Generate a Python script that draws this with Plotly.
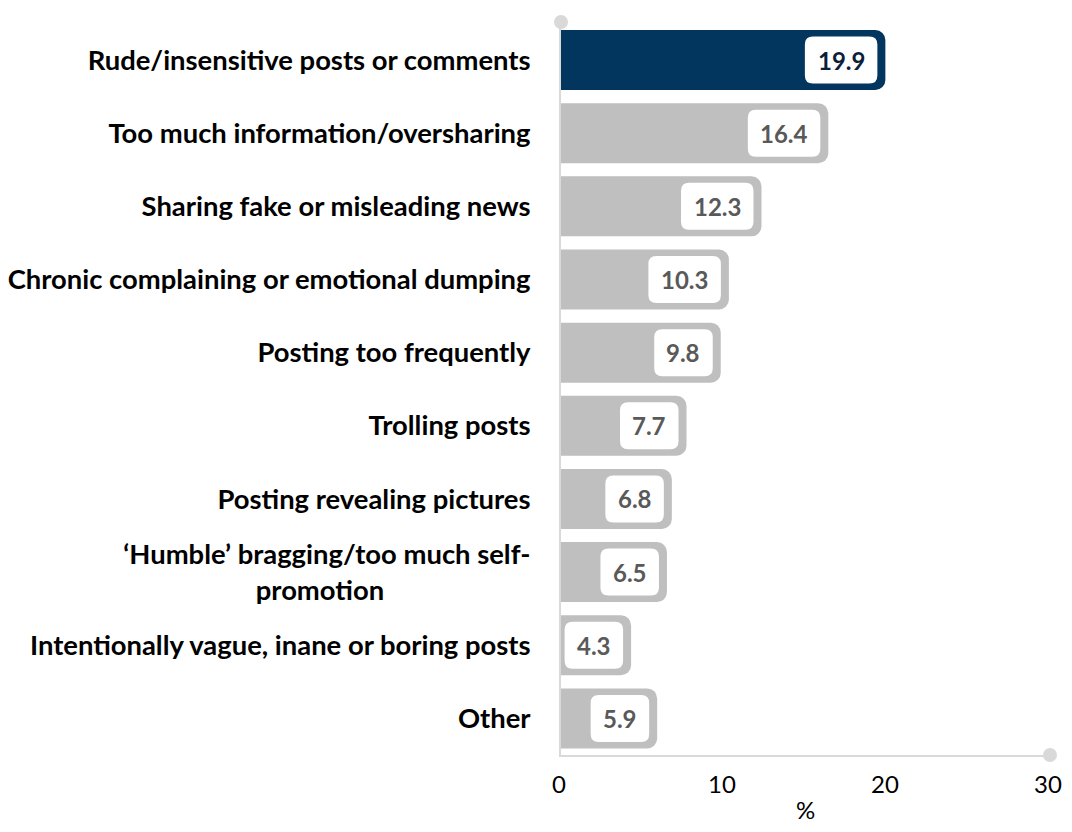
import plotly.graph_objects as go

categories = [
    "Rude/insensitive posts or comments",
    "Too much information/oversharing",
    "Sharing fake or misleading news",
    "Chronic complaining or emotional dumping",
    "Posting too frequently",
    "Trolling posts",
    "Posting revealing pictures",
    "‘Humble’ bragging/too much self-<br>promotion" + "\u00a0" * 22,
    "Intentionally vague, inane or boring posts",
    "Other",
]
values = [19.9, 16.4, 12.3, 10.3, 9.8, 7.7, 6.8, 6.5, 4.3, 5.9]
x_ticks = [0, 10, 20, 30]

FONT = "Lato, Carlito, Calibri, sans-serif"
NAVY = "#02365F"
GRAY = "#BFBFBF"
AXIS = "#D9D9D9"

idx = list(range(len(categories)))
colors = [NAVY if i == 0 else GRAY for i in idx]
txtcolors = ["#0B1F3A" if i == 0 else "#595959" for i in idx]

y_top = -0.52
y_bot = len(categories) - 0.5
x_max = 30

fig = go.Figure()
fig.add_trace(go.Bar(
    x=values, y=idx, orientation="h",
    marker=dict(color=colors, cornerradius=10, line=dict(width=0)),
    width=0.82, hoverinfo="skip", showlegend=False,
))
fig.add_trace(go.Scatter(
    x=[0, x_max], y=[y_top, y_bot], mode="markers",
    marker=dict(size=14, color=AXIS), cliponaxis=False,
    hoverinfo="skip", showlegend=False,
))

shapes = []
annotations = []
h = 47
r = 8
inset = 8
for i, v in zip(idx, values):
    label = f"{v:.1f}"
    ndig = sum(ch.isdigit() for ch in label)
    w = 14 * ndig + 6.5 + 24
    x1 = -inset
    x0 = x1 - w
    y0 = -h / 2
    y1 = h / 2
    path = (f"M {x0+r},{y0} L {x1-r},{y0} Q {x1},{y0} {x1},{y0+r} "
            f"L {x1},{y1-r} Q {x1},{y1} {x1-r},{y1} L {x0+r},{y1} "
            f"Q {x0},{y1} {x0},{y1-r} L {x0},{y0+r} Q {x0},{y0} {x0+r},{y0} Z")
    shapes.append(dict(
        type="path", path=path, xref="x", yref="y",
        xsizemode="pixel", ysizemode="pixel", xanchor=v, yanchor=i,
        fillcolor="white", line=dict(width=0), layer="above",
    ))
    annotations.append(dict(
        x=v, y=i, xref="x", yref="y", text=f"<b>{label}</b>",
        showarrow=False, xanchor="center", yanchor="middle",
        xshift=-(inset + w / 2),
        font=dict(family=FONT, size=24, color=txtcolors[i]),
    ))

fig.update_layout(
    width=1056, height=816,
    margin=dict(l=553, r=14, t=14, b=69, autoexpand=False),
    paper_bgcolor="white", plot_bgcolor="white",
    font=dict(family=FONT, color="black"),
    shapes=shapes, annotations=annotations,
    xaxis=dict(
        range=[0, x_max], tickvals=x_ticks, showgrid=False, zeroline=False,
        showline=True, linecolor=AXIS, linewidth=2, automargin=False,
        tickfont=dict(size=24, color="black"), ticklabelstandoff=7,
        ticklabelshift=-2,
        title=dict(text="%", font=dict(size=24, color="black"), standoff=8),
    ),
    yaxis=dict(
        range=[y_bot, y_top], tickvals=idx,
        ticktext=[f"<b>{c}</b>" for c in categories],
        showgrid=False, zeroline=False, automargin=False,
        showline=True, linecolor=AXIS, linewidth=2,
        tickfont=dict(size=27.4, color="black"), ticklabelstandoff=23,
    ),
)

fig.write_html("out.html")
